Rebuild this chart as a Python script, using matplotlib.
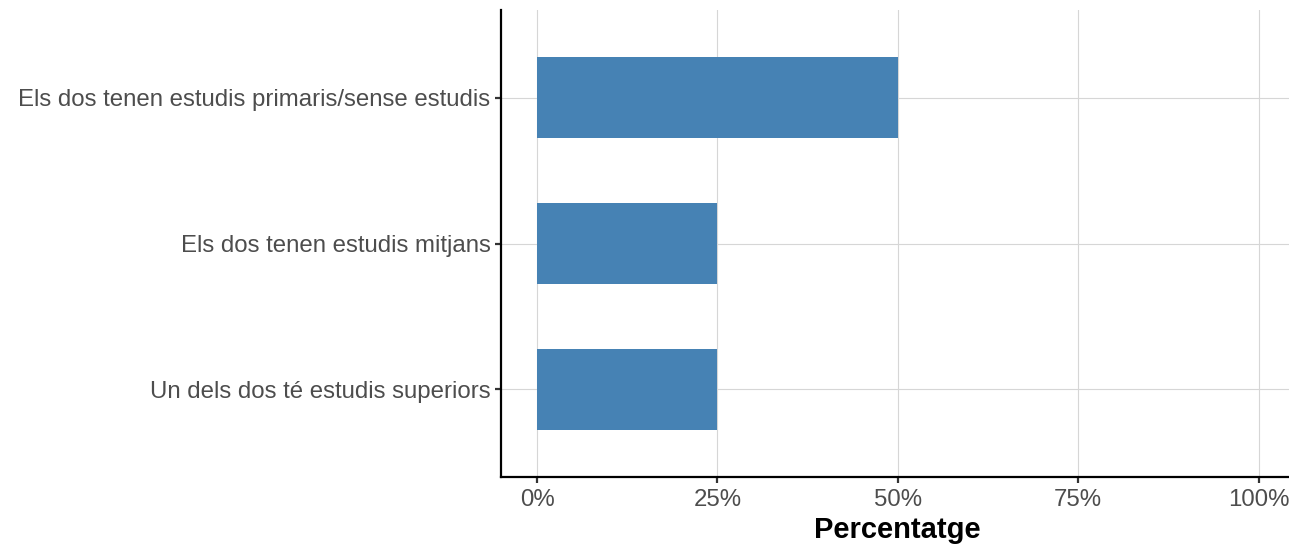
import matplotlib.pyplot as plt

# dades
categories = ["Un dels dos té estudis superiors",
              "Els dos tenen estudis mitjans",
              "Els dos tenen estudis primaris/sense estudis"]
percentatges = [25, 25, 50]
xticks = [0, 25, 50, 75, 100]
xtick_labels = ["0%", "25%", "50%", "75%", "100%"]

plt.rcParams['font.family'] = ['Liberation Sans', 'DejaVu Sans']

fig = plt.figure(figsize=(12.89, 5.45), dpi=100)
ax = fig.add_axes([501 / 1289, 1 - 477 / 545, 793 / 1289, 467 / 545])

pos = list(range(1, len(categories) + 1))
ax.barh(pos, percentatges, height=0.553, color="#4682B4", zorder=2)

ax.set_xlim(-5.0, 104.9)
ax.set_ylim(0.4, 3.6)
ax.set_xticks(xticks)
ax.set_xticklabels(xtick_labels)
ax.set_yticks(pos)
ax.set_yticklabels(categories)

ax.grid(True, color="#d6d6d6", linewidth=0.8, zorder=0)
ax.set_axisbelow(True)

for s in ["top", "right"]:
    ax.spines[s].set_visible(False)
for s in ["left", "bottom"]:
    ax.spines[s].set_linewidth(1.6)
    ax.spines[s].set_color("black")

ax.tick_params(axis="both", length=4.5, width=1.6, color="#333333",
               labelsize=17.3, labelcolor="#4d4d4d", pad=3)
ax.tick_params(axis="x", pad=4.5)
ax.set_xlabel("Percentatge", fontsize=21, fontweight="bold", labelpad=3)

fig.savefig("out.png", dpi=100)
